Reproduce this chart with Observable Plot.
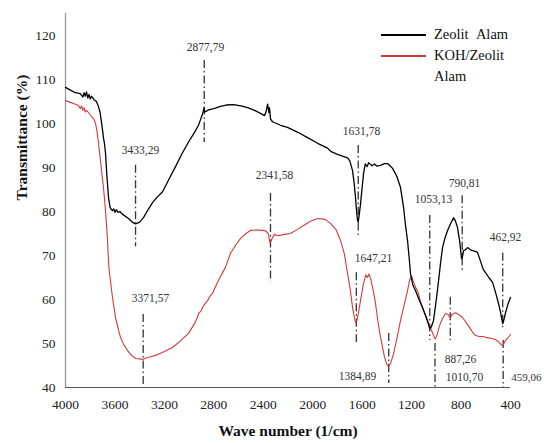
<!DOCTYPE html>
<html>
<head>
<meta charset="utf-8">
<script src="https://cdn.jsdelivr.net/npm/d3@7"></script>
<script src="https://cdn.jsdelivr.net/npm/@observablehq/plot@0.6"></script>
<style>
  html, body { margin: 0; padding: 0; background: #fff; }
  #wrap { position: relative; width: 544px; height: 443px; font-family: "Liberation Serif", "Times New Roman", Times, Tinos, "DejaVu Serif", serif; }
  #wrap svg, #wrap svg text { font-family: "Liberation Serif", "Times New Roman", Times, Tinos, "DejaVu Serif", serif; }
  .leg { position: absolute; font-size: 14.5px; color: #111; line-height: 1; }
  .sw { position: absolute; height: 2px; width: 45px; }
</style>
</head>
<body>
<div id="wrap"></div>
<script>
// Series names
const seriesNames = ["Zeolit  Alam", "KOH/Zeolit Alam"];

// Zeolit Alam: [wavenumber (1/cm), transmittance (%)]
const zeolitAlam = [[4000,108.2],[3960,107.6],[3920,107.0],[3880,106.8],[3860,106.0],[3850,107.0],[3840,106.2],[3830,107.2],[3820,105.8],[3810,106.6],[3800,105.6],[3790,106.2],[3770,105.4],[3750,105.0],[3735,104.0],[3720,102.5],[3705,99.5],[3693,96.8],[3685,95.5],[3676,93.2],[3665,88],[3652,83.2],[3640,81],[3630,80.5],[3620,80.2],[3610,80.6],[3600,79.8],[3590,80.4],[3575,79.8],[3560,80.0],[3540,79.4],[3520,79.0],[3490,78.4],[3460,77.6],[3433,77.2],[3400,77.6],[3369,78.6],[3330,80.5],[3296,82.0],[3260,83.2],[3215,84.5],[3160,87.5],[3110,90.2],[3060,93.0],[3005,95.8],[2960,97.8],[2924,99.6],[2900,101.5],[2890,102.2],[2880,103.5],[2872,102.6],[2860,102.8],[2843,103.1],[2800,103.4],[2746,103.9],[2700,104.2],[2641,104.3],[2580,104.0],[2527,103.6],[2470,103.0],[2422,102.3],[2390,101.8],[2378,102.6],[2365,104.4],[2355,102.5],[2350,103.6],[2341,101.0],[2325,100.4],[2260,99.6],[2204,99.1],[2120,98.0],[2042,96.8],[1960,95.5],[1880,94.4],[1850,93.6],[1832,93.4],[1800,93.0],[1760,92.6],[1718,92.2],[1700,91.5],[1678,89.3],[1665,86.5],[1654,83.2],[1645,80.0],[1638,78.0],[1632,77.6],[1625,79.0],[1613,81.8],[1600,85.5],[1589,88.6],[1575,90.8],[1560,90.2],[1548,91.1],[1520,90.4],[1500,90.8],[1480,90.3],[1451,90.5],[1420,90.9],[1395,90.9],[1375,90.4],[1354,89.8],[1320,88.0],[1290,85.5],[1265,80.9],[1250,77.0],[1233,73.4],[1220,69.5],[1209,65.9],[1190,63.3],[1168,62.0],[1140,60.0],[1112,58.2],[1080,55.8],[1053,53.4],[1040,53.8],[1023,55.2],[1000,60.0],[982,64.3],[965,68.5],[950,71.8],[930,74.0],[909,75.7],[885,77.2],[861,78.6],[845,77.8],[829,76.4],[810,73.0],[796,69.3],[790,69.5],[780,71.1],[765,71.3],[748,71.8],[720,71.2],[690,71.0],[667,70.7],[640,68.5],[620,66.8],[602,66.1],[575,65.0],[545,63.9],[520,61.5],[497,59.1],[480,57.0],[463,54.5],[450,55.8],[440,57.0],[420,59.0],[400,60.5]];

// KOH/Zeolit Alam: [wavenumber (1/cm), transmittance (%)]
const kohZeolitAlam = [[4000,105.2],[3960,104.8],[3930,104.5],[3895,104.1],[3880,103.4],[3870,104.0],[3860,103.0],[3850,103.6],[3840,102.6],[3830,103.0],[3814,102.5],[3790,101.6],[3770,101.0],[3757,100.0],[3745,98.2],[3733,95.5],[3715,91.0],[3693,85.5],[3676,80.2],[3660,73.5],[3652,68.5],[3644,66.0],[3620,60.5],[3595,55.9],[3575,53.5],[3555,51.4],[3530,49.8],[3498,48.4],[3465,47.3],[3434,46.6],[3400,46.5],[3372,46.4],[3340,46.8],[3310,47.0],[3272,47.3],[3200,48.2],[3134,49.1],[3070,50.6],[3005,52.3],[2950,54.8],[2920,57.0],[2905,57.3],[2892,58.2],[2850,59.8],[2830,60.8],[2811,61.4],[2760,64.5],[2706,67.3],[2665,70.5],[2620,72.5],[2584,73.9],[2540,75.0],[2503,75.7],[2450,75.8],[2400,75.7],[2382,75.6],[2360,75.0],[2345,72.8],[2341,73.0],[2330,73.8],[2310,74.8],[2285,74.5],[2230,74.8],[2180,75.0],[2120,76.0],[2074,76.8],[2020,77.8],[1961,78.4],[1900,78.2],[1856,77.3],[1810,75.8],[1775,73.4],[1745,70.5],[1718,65.9],[1695,62.0],[1678,58.2],[1660,55.5],[1650,54.6],[1640,55.5],[1625,57.8],[1613,59.8],[1590,63.5],[1570,65.6],[1557,65.0],[1545,65.8],[1532,64.8],[1510,62.0],[1492,59.1],[1470,54.5],[1451,51.4],[1420,47.0],[1400,45.2],[1387,44.8],[1370,45.5],[1346,47.7],[1320,51.0],[1290,55.2],[1260,58.8],[1233,62.0],[1215,64.5],[1200,65.3],[1185,64.0],[1168,62.8],[1152,62.0],[1128,59.5],[1103,57.5],[1075,55.5],[1047,53.6],[1025,52.0],[1010,51.0],[995,51.8],[975,54.0],[950,55.7],[926,56.8],[905,56.6],[887,55.8],[875,56.6],[845,57.0],[815,56.5],[788,55.9],[760,54.8],[731,53.6],[705,52.5],[683,51.8],[650,51.6],[620,51.6],[602,51.4],[560,51.2],[521,50.9],[490,50.2],[470,49.6],[462,49.5],[450,50.2],[440,50.7],[420,51.3],[400,52.0]];

// Peak annotations: line wavenumber, label, label wavenumber, label T, line top T, line bottom T
const peakWn     = [2877.79, 3433.29, 3371.57, 2341.58, 1631.78, 1647.21, 1384.89, 1053.13, 790.81, 462.92, 459.06, 887.26, 1010.70];
const peakLabel  = ["2877,79","3433,29","3371,57","2341,58","1631,78","1647,21","1384,89","1053,13","790,81","462,92","459,06","887,26","1010,70"];
const peakLabWn  = [2867, 3393, 3312, 2309, 1605, 1508, 1638, 1023, 772, 440, 393, 804, 772];
const peakLabT   = [117.3, 93.9, 60.2, 88.2, 98.2, 69.3, 42.5, 82.7, 86.4, 74.1, 42.3, 46.4, 42.3];
const peakTop    = [114.3, 90.5, 56.6, 84.1, 95.0, 66.1, 52.3, 79.1, 83.6, 70.5, 50.7, 60.5, 50.0];
const peakBottom = [95.7, 72.0, 40.0, 63.9, 74.5, 50.2, 40.9, 50.7, 66.6, 53.6, 40.0, 50.0, 40.0];

const xTicks = [4000,3600,3200,2800,2400,2000,1600,1200,800,400];
const yTicks = [40,50,60,70,80,90,100,110,120];

const peaks = peakWn.map((w, i) => ({w, label: peakLabel[i], lw: peakLabWn[i], lt: peakLabT[i], y1: peakTop[i], y2: peakBottom[i], anchor: peakLabel[i] === "459,06" ? "start" : "middle"}));
const peaksMid = peaks.filter(d => d.anchor === "middle");
const peaksStart = peaks.filter(d => d.anchor === "start");

const colors = ["#000000", "#d03a3a"];
const serif = "'Liberation Serif', 'Times New Roman', Times, Tinos, 'DejaVu Serif', serif";

const chart = Plot.plot({
  width: 544,
  height: 443,
  marginLeft: 65,
  marginRight: 34,
  marginTop: 13,
  marginBottom: 56,
  style: {fontFamily: serif, fontSize: "13.5px", color: "#222", background: "#fff"},
  x: {domain: [4000, 400], ticks: xTicks, tickFormat: d => String(d), tickSize: 0, tickPadding: 12, label: null},
  y: {domain: [40, 125], ticks: yTicks, tickSize: 0, tickPadding: 10, label: null},
  marks: [
    Plot.ruleX([4000], {y1: 40, y2: 125, stroke: "#999", strokeWidth: 1.3}),
    Plot.ruleY([40], {x1: 4000, x2: 400, stroke: "#555", strokeWidth: 1.2}),
    Plot.ruleX(peaks, {x: "w", y1: "y1", y2: "y2", stroke: "#333", strokeWidth: 1.3, strokeDasharray: "8,3,1.5,3"}),
    Plot.line(kohZeolitAlam, {x: d => d[0], y: d => d[1], stroke: colors[1], strokeWidth: 1.1}),
    Plot.line(zeolitAlam, {x: d => d[0], y: d => d[1], stroke: colors[0], strokeWidth: 1.3}),
    Plot.text(peaksMid, {x: "lw", y: "lt", text: "label", fill: "#333", fontSize: 11.5, textAnchor: "middle", clip: false}),
    Plot.text(peaksStart, {x: "lw", y: "lt", text: "label", fill: "#333", fontSize: 11, textAnchor: "start", clip: false}),
    Plot.text(["Wave number (1/cm)"], {frameAnchor: "bottom", dy: 48, text: d => d, fontWeight: "bold", fontSize: 15.5, fill: "#111"}),
    Plot.text(["Transmittance (%)"], {frameAnchor: "left", dx: -43, rotate: -90, text: d => d, fontWeight: "bold", fontSize: 15.5, fill: "#111"})
  ]
});

const wrap = document.getElementById("wrap");
wrap.appendChild(chart);

// Legend overlay
const legendItems = [
  {name: "Zeolit\u00a0\u00a0Alam", color: colors[0], top: 35},
  {name: "KOH/Zeolit", color: colors[1], top: 56}
];
legendItems.forEach(it => {
  const sw = document.createElement("div");
  sw.className = "sw";
  sw.style.left = "381px"; sw.style.top = (it.top - 1) + "px"; sw.style.background = it.color;
  wrap.appendChild(sw);
  const t = document.createElement("div");
  t.className = "leg"; t.textContent = it.name;
  t.style.left = "434px"; t.style.top = (it.top - 8) + "px";
  wrap.appendChild(t);
});
const t2 = document.createElement("div");
t2.className = "leg"; t2.textContent = "Alam";
t2.style.left = "434px"; t2.style.top = (77 - 8) + "px";
wrap.appendChild(t2);
</script>
</body>
</html>
